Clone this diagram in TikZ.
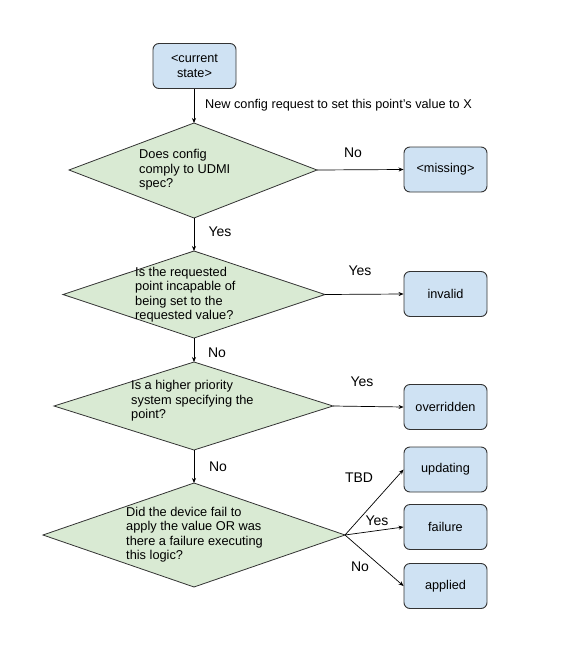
\documentclass[tikz,border=0pt]{standalone}
\usepackage{fontspec}
\setmainfont{Liberation Sans}
\usetikzlibrary{arrows.meta}
\definecolor{boxblue}{HTML}{CFE2F3}
\definecolor{diagreen}{HTML}{D9EAD3}
\definecolor{edge}{HTML}{333333}
\begin{document}
\begin{tikzpicture}[x=1pt,y=-1pt,
  statebox/.style={draw=edge,line width=0.9pt,fill=boxblue,rounded corners=6pt,
    minimum width=83pt,minimum height=45pt,align=center,inner sep=2pt,
    font=\fontsize{12.7}{14.5}\selectfont},
  decision/.style={draw=edge,line width=0.8pt,fill=diagreen},
  qtext/.style={anchor=west,align=left,inner sep=0pt,font=\fontsize{12.8}{14.5}\selectfont},
  lbl/.style={inner sep=0pt,font=\fontsize{14}{16}\selectfont},
  small/.style={inner sep=0pt,font=\fontsize{12.7}{14.5}\selectfont},
  conn/.style={draw=black,line width=0.7pt,-{Stealth[length=5pt,width=4pt]}}]
\useasboundingbox (0,0) rectangle (585,646);

% start box
\node[statebox] (cur) at (194.5,66) {<current\\state>};

% diamond 1
\coordinate (d1t) at (194,123);
\coordinate (d1r) at (317,170);
\coordinate (d1b) at (194,218);
\coordinate (d1l) at (69,170);
\draw[decision] (d1t) -- (d1r) -- (d1b) -- (d1l) -- cycle;
\node[qtext] (q1) at (139,170) {Does config\\comply to UDMI\\spec?};

% diamond 2
\coordinate (d2t) at (194,251);
\coordinate (d2r) at (325,294.5);
\coordinate (d2b) at (194,338);
\coordinate (d2l) at (63,294.5);
\draw[decision] (d2t) -- (d2r) -- (d2b) -- (d2l) -- cycle;
\node[qtext] (q2) at (135,294.5) {Is the requested\\point incapable of\\being set to the\\requested value?};

% diamond 3
\coordinate (d3t) at (194,362);
\coordinate (d3r) at (333,406);
\coordinate (d3b) at (194,450);
\coordinate (d3l) at (54,406);
\draw[decision] (d3t) -- (d3r) -- (d3b) -- (d3l) -- cycle;
\node[qtext] (q3) at (131,401) {Is a higher priority\\system specifying the\\point?};

% diamond 4
\coordinate (d4t) at (194,483);
\coordinate (d4r) at (345,535);
\coordinate (d4b) at (194,587);
\coordinate (d4l) at (43,535);
\draw[decision] (d4t) -- (d4r) -- (d4b) -- (d4l) -- cycle;
\node[qtext] (q4) at (126,534.5) {Did the device fail to\\apply the value OR was\\there a failure executing\\this logic?};

% result boxes
\node[statebox] (missing) at (445.5,169.5) {<missing>};
\node[statebox] (invalid) at (445.5,294) {invalid};
\node[statebox] (overr) at (445.5,407) {overridden};
\node[statebox] (upd) at (445.5,469.5) {updating};
\node[statebox] (fail) at (445.5,527) {failure};
\node[statebox] (appl) at (445.5,586) {applied};

% connectors
\draw[conn] (cur.south -| d1t) -- (d1t);
\draw[conn] (d1b) -- (d2t);
\draw[conn] (d2b) -- (d3t);
\draw[conn] (d3b) -- (d4t);
\draw[conn] (d1r) -- (missing.west);
\draw[conn] (d2r) -- (invalid.west);
\draw[conn] (d3r) -- (overr.west);
\draw[conn] (d4r) -- (upd.west);
\draw[conn] (d4r) -- (fail.west);
\draw[conn] (d4r) -- (appl.west);

% labels
\node[small,anchor=west] (lnew) at (205,105) {New config request to set this point’s value to X};
\node[lbl] (lno1) at (353,153) {No};
\node[lbl] (lyes1) at (220,232) {Yes};
\node[lbl] (lyes2) at (360,271) {Yes};
\node[lbl] (lno2) at (217,353) {No};
\node[lbl] (lyes3) at (362,382) {Yes};
\node[lbl] (lno3) at (218,467) {No};
\node[lbl] (ltbd) at (359,478) {TBD};
\node[lbl] (lyes4) at (377,521) {Yes};
\node[lbl] (lno4) at (360,567) {No};
\end{tikzpicture}
\end{document}
